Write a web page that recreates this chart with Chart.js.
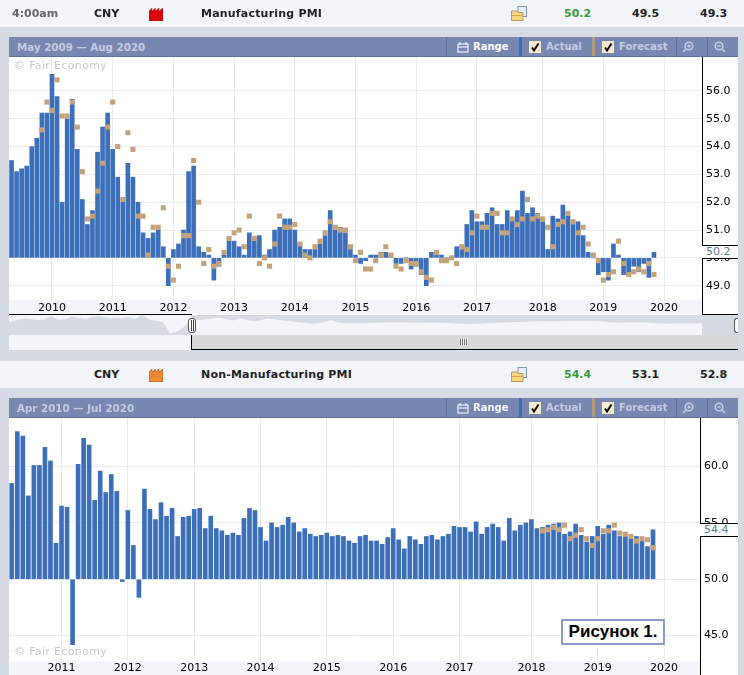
<!DOCTYPE html>
<html>
<head>
<meta charset="utf-8">
<title>CNY PMI</title>
<script src="https://cdn.jsdelivr.net/npm/chart.js@4/dist/chart.umd.min.js"></script>
<style>
  html, body { margin: 0; padding: 0; width: 744px; height: 675px; overflow: hidden; background: #d5dae3; }
  body { position: relative; font-family: "DejaVu Sans", sans-serif; font-size: 11px; }
  .abs, canvas { position: absolute; }
  .row { position: absolute; left: 0; width: 744px; height: 27px; background: #f3f5fa; }
  .cell { position: absolute; top: 7px; line-height: 14px; font-weight: bold; color: #222; white-space: nowrap; }
  .bar { position: absolute; left: 9px; width: 729px; height: 20px; background: #7688b2; box-sizing: border-box; border-bottom: 1px solid #5f719c; }
  .bar span { position: absolute; top: 3px; line-height: 14px; font-size: 10px; font-weight: bold; color: #c3cce0; white-space: nowrap; }
  .bar span.range { font-size: 10.3px; }
  .sep { position: absolute; top: 0; width: 1px; height: 19px; background: #5f719c; }
  .swatch { position: absolute; top: 0; width: 3px; height: 19px; }
  .chk { position: absolute; top: 4px; width: 12px; height: 12px; background: #f4e9c8; }
  .bar svg { position: absolute; }
  .wm { position: absolute; left: 14px; color: #c8c8c8; letter-spacing: 0.35px; line-height: 14px; }
  .line { position: absolute; background: #000; }
  .val { position: absolute; background: #fff; border-top: 1px solid #000; border-bottom: 1px solid #000; box-sizing: border-box; color: #5a7a90; line-height: 12px; }
  .handle { position: absolute; box-sizing: border-box; background: #fff; border: 1px solid #555; border-radius: 3px; }
</style>
</head>
<body>

<div class="abs" style="left:9px;top:57px;width:729px;height:258px;background:#fff"></div>
<div class="abs" style="left:9px;top:300px;width:693px;height:14px;background:#f3f5fa"></div>
<canvas id="chart1" width="729" height="258" style="left:9px;top:57px"></canvas>

<div class="abs" style="left:9px;top:418px;width:729px;height:257px;background:#fff"></div>
<div class="abs" style="left:9px;top:661px;width:691px;height:14px;background:#f3f5fa"></div>
<canvas id="chart2" width="729" height="257" style="left:9px;top:418px"></canvas>

<canvas id="nav" width="693" height="20" style="left:9px;top:315px"></canvas>
<div class="abs" style="left:9px;top:335px;width:182px;height:15px;background:#f3f5fa"></div>
<div class="abs" style="left:191px;top:335px;width:547px;height:15px;background:#d8d8d8"></div>
<div class="line" style="left:9px;top:314px;width:183px;height:1px"></div>
<div class="line" style="left:191px;top:335px;width:1px;height:15px"></div>
<div class="line" style="left:191px;top:349px;width:547px;height:1px"></div>
<div class="handle" style="left:188px;top:318px;width:8px;height:15px"></div>
<div class="line" style="left:191px;top:320px;width:1px;height:11px;background:#444"></div>
<div class="line" style="left:193px;top:320px;width:1px;height:11px;background:#444"></div>
<div class="handle" style="left:734px;top:318px;width:4px;height:15px;border-right:0;border-radius:3px 0 0 3px"></div>
<div class="abs" style="left:460px;top:339px;width:8px;height:6px;background:repeating-linear-gradient(90deg,#777 0 1px,#eee 1px 2px)"></div>

<div class="line" style="left:702px;top:57px;width:1px;height:188px"></div>
<div class="line" style="left:702px;top:258px;width:1px;height:57px"></div>
<div class="line" style="left:702px;top:314px;width:36px;height:1px"></div>
<div class="val" style="left:702px;top:245px;width:36px;height:14px;padding-left:4px">50.2</div>

<div class="line" style="left:700px;top:418px;width:1px;height:105px"></div>
<div class="line" style="left:700px;top:536px;width:1px;height:139px"></div>
<div class="val" style="left:700px;top:523px;width:38px;height:14px;padding-left:4px">54.4</div>

<div class="wm" style="top:59px">© Fair Economy</div>
<div class="wm" style="top:645px">© Fair Economy</div>

<div class="abs" style="left:561px;top:619px;width:104px;height:26px;box-sizing:border-box;border:2px solid #8f9ac8;background:#fff;font:bold 17px 'Liberation Sans',sans-serif;line-height:22px;text-align:center;color:#000;white-space:nowrap">Рисунок 1.</div>

<script>
// manufacturing PMI, one entry per release from May 2009
const mfgActual = [53.5, 53.1, 53.2, 53.3, 54.0, 54.3, 55.2, 55.2, 56.6, 55.8, 52.0, 55.0, 55.7, 53.9, 52.1, 51.2,
  51.7, 53.8, 54.7, 55.2, 53.9, 52.9, 52.0, 53.4, 52.9, 52.0, 50.9, 50.7, 50.9, 51.0, 50.4, 49.0,
  50.3, 50.5, 51.0, 53.1, 53.3, 50.4, 50.2, 50.1, 49.2, 49.7, 50.1, 50.6, 50.6, 50.4, 50.1, 50.9,
  50.6, 50.8, 50.1, 50.3, 51.0, 51.1, 51.4, 51.4, 51.0, 50.5, 50.3, 50.3, 50.3, 50.5, 50.8, 51.7,
  51.0, 51.1, 50.9, 50.3, 50.1, 49.8, 49.9, 50.1, 50.1, 50.2, 50.2, 50.1, 49.8, 49.8, 50.0, 49.6,
  49.7, 49.4, 49.0, 50.2, 50.1, 50.1, 50.0, 50.0, 50.4, 50.3, 51.2, 51.7, 51.3, 51.3, 51.6, 51.8,
  51.2, 51.2, 51.7, 51.4, 51.7, 52.4, 51.6, 51.8, 51.6, 51.3, 50.3, 51.5, 51.4, 51.9, 51.5, 51.2,
  51.3, 50.8, 50.2, 50.0, 49.4, 49.5, 49.2, 50.5, 50.1, 49.4, 49.4, 49.7, 49.5, 49.8, 49.3, 50.2];
const mfgForecast = [null, null, null, null, null, null, 54.6, 55.6, 55.3, 56.4, 55.1, 55.1, 55.6, 54.7, 53.1, 51.4,
  51.5, 52.4, 53.4, 54.7, 55.6, 54.0, 52.1, 54.5, 53.9, 51.5, 51.5, 50.1, 51.1, 51.1, 51.8, 49.7,
  49.2, 49.7, 50.8, 50.8, 53.5, 52.0, 49.8, 50.3, 49.7, 49.8, 50.2, 50.7, 50.9, 51.0, 50.4, 51.5,
  50.7, 49.8, 50.0, 49.7, 50.5, 51.5, 51.1, 51.1, 51.2, 50.5, 50.1, 50.0, 50.4, 50.6, 50.9, 51.3,
  51.1, 51.0, 51.0, 50.4, 49.9, 50.2, 49.6, 49.6, 49.9, 50.1, 50.4, 50.1, 49.7, 49.6, 49.9, 49.8,
  49.8, 49.5, 49.3, 49.2, 50.2, 49.9, 49.9, 50.0, 49.8, 50.4, 50.3, 50.9, 51.5, 51.1, 51.1, 51.6,
  51.6, 50.9, 50.9, 51.4, 51.2, 51.4, 52.1, 51.4, 51.5, 51.4, 51.1, 50.4, 51.2, 51.3, 51.6, 51.3,
  50.9, 51.1, 50.5, 50.1, 49.9, 49.2, 49.4, 49.5, 50.6, 49.8, 49.4, 49.5, 49.6, 49.5, 49.8, 49.4];
const mfgYears = ["2010", "2011", "2012", "2013", "2014", "2015", "2016", "2017", "2018", "2019", "2020"];
const mfgYearIndex = [8, 20, 32, 44, 56, 68, 80, 92, 105, 117, 129];
const mfgTicks = [49, 50, 51, 52, 53, 54, 55, 56];

// non-manufacturing PMI, one entry per release from Apr 2010
const nonMfgActual = [58.5, 63.1, 62.7, 57.4, 60.1, 60.1, 61.7, 60.5, 53.2, 56.5, 56.4, 44.2, 60.2, 62.5, 61.9, 57.0,
  59.6, 57.7, 59.3, 57.8, 49.8, 56.1, 53.0, 48.4, 58.0, 56.2, 55.3, 56.8, 55.6, 56.3, 53.8, 55.5,
  55.6, 56.2, 56.3, 54.5, 55.6, 54.5, 54.3, 53.9, 54.1, 53.9, 55.4, 56.3, 56.1, 54.6, 53.4, 55.0,
  54.6, 54.8, 55.5, 55.0, 54.2, 54.5, 54.0, 53.8, 53.9, 54.1, 53.8, 53.9, 53.8, 53.4, 53.2, 53.8,
  53.9, 53.4, 53.4, 53.1, 53.7, 54.5, 53.5, 52.7, 53.8, 53.5, 53.1, 53.8, 53.9, 53.5, 53.8, 54.0,
  54.7, 54.6, 54.6, 54.2, 55.1, 54.0, 54.6, 54.9, 54.6, 53.4, 55.4, 54.3, 54.8, 55.0, 55.3, 54.5,
  54.6, 54.8, 54.9, 55.0, 54.0, 54.2, 54.9, 53.9, 53.3, 53.8, 54.7, 54.0, 54.8, 54.3, 53.8, 53.8,
  53.6, 53.8, 53.4, 52.9, 54.4];
const nonMfgForecastFrom = 96;
const nonMfgForecastTail = [54.3, 54.4, 54.6, 54.4, 54.8, 53.6, 53.9, 54.4, 53.6, 53.0, 53.6, 54.3, 54.3, 54.8, 54.1,
  54.0, 53.8, 53.4, 53.6, 53.5, 52.8];
const nonMfgYears = ["2011", "2012", "2013", "2014", "2015", "2016", "2017", "2018", "2019", "2020"];
const nonMfgYearIndex = [9, 21, 33, 45, 57, 69, 81, 94, 106, 118];
const nonMfgTicks = [45, 50, 55, 60];

// overview strip above the range slider, height of the outline
const navLevels = [13, 14.5, 16.5, 16, 15, 15.5, 19, 15.5, 15.7, 18.3, 17, 16, 18.5, 18.7, 17.2, 17, 17, 17.7, 16, 20,
  15.5, 14, 13, 1.5, 3.5, 8, 15.7, 15, 15.5, 16.5, 17.5, 16, 14.5, 17, 15, 13.5, 15, 16.7, 15.5, 14.5,
  14, 13, 12.5, 11.5, 11.5, 13, 14.7, 12.5, 12, 11.8, 11.7, 12, 12.2, 12.3, 12.5, 12.7, 12.7, 12.5, 12.4, 12.3,
  12.3, 12.3, 12.2, 12, 11.5, 11.3, 11, 11.3, 11.7, 12, 12.3, 12.6, 13, 13, 13.3, 13.5, 13.7, 13.7, 13.8, 13.8,
  14, 14, 14, 14, 14, 13.2, 12.6, 12.4, 12.6, 12.8, 12.8, 12.4, 12, 11.5, 11.3, 11.4, 11.5, 11.6, 11.7, 11.7];
const navSplit = 26;

const blue = "#3c6fb9";
const tan = "#c4a27b";
const gridColor = "#e9ebef";

function yearLabels(count, indexes, names) {
  const labels = new Array(count).fill("");
  indexes.forEach((idx, i) => { labels[idx] = names[i]; });
  return labels;
}

// drop the room Chart.js keeps for half a tick label, the plot has to fill the canvas
function noMargins(scale) {
  scale.paddingTop = 0;
  scale.paddingBottom = 0;
  scale.paddingLeft = 0;
  scale.paddingRight = 0;
}

function pmiChart(id, labels, actual, forecast, ticks, yMin, yMax, axisWidth) {
  new Chart(document.getElementById(id), {
    data: {
      labels: labels,
      datasets: [
        { type: "line", data: forecast, showLine: false, pointStyle: "rect", pointRadius: 3.6,
          pointBorderWidth: 0, pointBackgroundColor: tan, order: 0 },
        { type: "bar", data: actual, base: 50, backgroundColor: blue, barThickness: 4, order: 1 },
      ],
    },
    options: {
      responsive: false,
      animation: false,
      devicePixelRatio: 1,
      layout: { padding: 0, autoPadding: false },
      plugins: { legend: { display: false }, tooltip: { enabled: false } },
      scales: {
        x: {
          offset: true,
          grid: { color: gridColor, offset: false, drawTicks: false },
          border: { display: false },
          ticks: { autoSkip: false, maxRotation: 0, padding: 1, color: "#000", font: { family: "DejaVu Sans", size: 11 } },
          afterBuildTicks: (scale) => { scale.ticks = scale.ticks.filter((t) => labels[t.value] !== ""); },
          afterFit: (scale) => { scale.height = 14; noMargins(scale); },
        },
        y: {
          position: "right",
          min: yMin,
          max: yMax,
          grid: { color: gridColor, drawTicks: false },
          border: { display: false },
          ticks: { padding: 4, color: "#000", font: { family: "DejaVu Sans", size: 11 }, callback: (v) => v.toFixed(1) },
          afterBuildTicks: (scale) => { scale.ticks = ticks.map((v) => ({ value: v })); },
          afterFit: (scale) => { scale.width = axisWidth; noMargins(scale); },
        },
      },
    },
  });
}

pmiChart("chart1", yearLabels(137, mfgYearIndex, mfgYears), mfgActual, mfgForecast, mfgTicks, 48.45, 57.22, 36);

const nonMfgForecast = nonMfgActual.map((v, i) => (i < nonMfgForecastFrom ? null : nonMfgForecastTail[i - nonMfgForecastFrom]));
pmiChart("chart2", yearLabels(125, nonMfgYearIndex, nonMfgYears), nonMfgActual, nonMfgForecast, nonMfgTicks, 42.75, 64.31, 38);

// overview strip: left of the handle is masked, so the fill flips there
new Chart(document.getElementById("nav"), {
  type: "line",
  data: {
    labels: navLevels.map((v, i) => i),
    datasets: [
      { data: navLevels.map((v, i) => (i <= navSplit ? v : null)), fill: "end", backgroundColor: "#f3f5fa", borderWidth: 0, pointRadius: 0 },
      { data: navLevels.map((v, i) => (i >= navSplit ? v : null)), fill: "start", backgroundColor: "#f3f5fa", borderWidth: 0, pointRadius: 0 },
    ],
  },
  options: {
    responsive: false,
    animation: false,
    devicePixelRatio: 1,
    layout: { padding: 0, autoPadding: false },
    plugins: { legend: { display: false }, tooltip: { enabled: false } },
    scales: { x: { display: false }, y: { display: false, min: 0, max: 20 } },
  },
});

// page chrome: the same strip and toolbar above each chart
const factory = (color) => `<svg class="abs" style="left:149px;top:8px" width="14" height="13" viewBox="0 0 14 13"><path d="M0 3 L3 0 V3 L6.5 0 V3 L10 0 V3 L14 0 V13 H0 Z" fill="${color}" stroke="#8a3a10" stroke-width="0.5"/></svg>`;
const folder = `<svg class="abs" style="left:511px;top:6px" width="17" height="15" viewBox="0 0 17 15"><rect x="7" y="0.5" width="8.5" height="10" fill="#e8eef8" stroke="#7f93b5"/><path d="M0.5 5 H6 L7 6.5 H12 V14.5 H0.5 Z" fill="#f7d784" stroke="#b79a5a"/><rect x="1" y="9" width="11" height="1" fill="#d9a94a"/></svg>`;
const tick = `<svg width="12" height="12" viewBox="0 0 12 12" style="left:0;top:0"><path d="M3 6.5 L5 9.5 L9.5 2.5" fill="none" stroke="#000" stroke-width="2"/></svg>`;
const blocks = [
  { top: 0, time: "4:00am", name: "Manufacturing PMI", icon: "#d8000c", act: "50.2", fc: "49.5", prev: "49.3", range: "May 2009 — Aug 2020" },
  { top: 361, time: "", name: "Non-Manufacturing PMI", icon: "#ee8a35", act: "54.4", fc: "53.1", prev: "52.8", range: "Apr 2010 — Jul 2020" },
];
blocks.forEach((b) => {
  const el = document.createElement("div");
  el.innerHTML = `
  <div class="row" style="top:${b.top}px">
    <div class="cell" style="left:12px;color:#666">${b.time}</div>
    <div class="cell" style="left:94px">CNY</div>
    ${factory(b.icon)}
    <div class="cell" style="left:201px;letter-spacing:0.2px">${b.name}</div>
    ${folder}
    <div class="cell" style="left:564px;color:#3a9a3a">${b.act}</div>
    <div class="cell" style="left:632px">${b.fc}</div>
    <div class="cell" style="left:700px">${b.prev}</div>
  </div>
  <div class="bar" style="top:${b.top + 37}px">
    <span class="range" style="left:8px">${b.range}</span>
    <div class="sep" style="left:437px"></div>
    <svg style="left:448px;top:4px" width="12" height="12" viewBox="0 0 12 12"><rect x="1" y="3" width="10" height="8" fill="none" stroke="#fff"/><path d="M3 1 V4 M9 1 V4 M1 6 H11" stroke="#fff"/></svg>
    <span style="left:464px;color:#fff">Range</span>
    <div class="swatch" style="left:510px;background:#3c6fb9"></div>
    <div class="chk" style="left:520px">${tick}</div>
    <span style="left:537px">Actual</span>
    <div class="swatch" style="left:583px;background:#b89a7c"></div>
    <div class="chk" style="left:593px">${tick}</div>
    <span style="left:610px">Forecast</span>
    <div class="sep" style="left:667px"></div>
    <svg style="left:672px;top:3px" width="14" height="14" viewBox="0 0 14 14"><circle cx="8" cy="6" r="3.8" fill="none" stroke="#c3cce0" stroke-width="1.6"/><path d="M5 9 L2 12 M6.5 6 H9.5 M8 4.5 V7.5" stroke="#c3cce0" stroke-width="1.6"/></svg>
    <div class="sep" style="left:698px"></div>
    <svg style="left:704px;top:3px" width="14" height="14" viewBox="0 0 14 14"><circle cx="6" cy="6" r="3.8" fill="none" stroke="#c3cce0" stroke-width="1.6"/><path d="M9 9 L12 12 M4.5 6 H7.5" stroke="#c3cce0" stroke-width="1.6"/></svg>
  </div>`;
  document.body.appendChild(el);
});
</script>
</body>
</html>
